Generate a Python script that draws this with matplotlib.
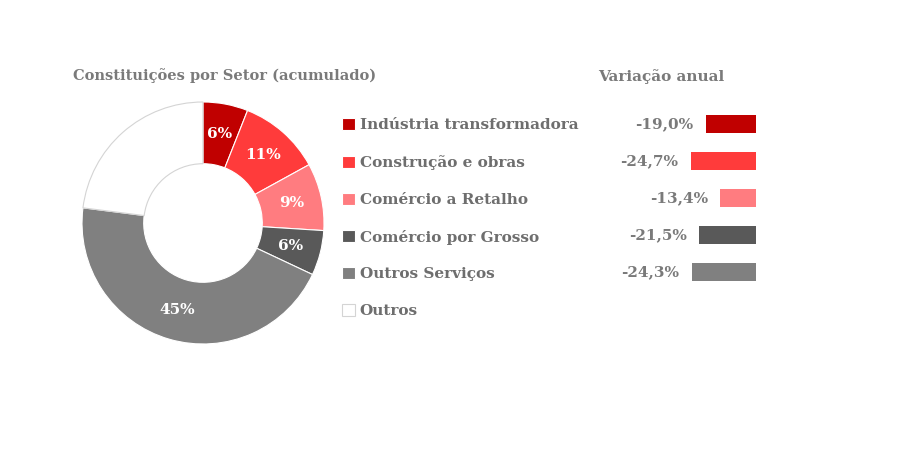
import matplotlib.pyplot as plt
import numpy as np

# dados
setores = ["Indústria transformadora", "Construção e obras", "Comércio a Retalho",
           "Comércio por Grosso", "Outros Serviços", "Outros"]
quotas = [6, 11, 9, 6, 45, 23]
quota_labels = ["6%", "11%", "9%", "6%", "45%", ""]
variacao = [-19.0, -24.7, -13.4, -21.5, -24.3]
variacao_labels = ["-19,0%", "-24,7%", "-13,4%", "-21,5%", "-24,3%"]

cores = ["#C00000", "#FF3B3B", "#FF7C80", "#595959", "#808080", "#FFFFFF"]
TEXTO = "#7a7a7a"
FONTE = "DejaVu Serif"

W, H = 900, 450
fig = plt.figure(figsize=(9, 4.5), dpi=100)
fig.patch.set_facecolor("white")


def px_axes(x0, y0, x1, y1):
    # caixa em pixeis (origem no canto superior esquerdo)
    return fig.add_axes([x0 / W, (H - y1) / H, (x1 - x0) / W, (y1 - y0) / H])


# donut
cx, cy, r = 203, 223, 121
ax = px_axes(cx - r, cy - r, cx + r, cy + r)
wedges, _ = ax.pie(quotas, colors=cores, startangle=90, counterclock=False,
                   radius=1, wedgeprops=dict(width=0.51, edgecolor="white", linewidth=0.8))
wedges[-1].set_edgecolor("#d4d4d4")
ax.set_xlim(-1, 1)
ax.set_ylim(-1, 1)
ax.set_aspect("equal")
ax.axis("off")

for w, lab in zip(wedges, quota_labels):
    ang = np.deg2rad((w.theta1 + w.theta2) / 2)
    ax.text(0.75 * np.cos(ang), 0.75 * np.sin(ang), lab, ha="center", va="center",
            color="white", fontsize=11, fontweight="bold", family=FONTE)

fig.text(73 / W, 1 - 76 / H, "Constituições por Setor (acumulado)", ha="left", va="center",
         color=TEXTO, fontsize=10.5, fontweight="bold", family=FONTE)

# legenda
leg = fig.legend(wedges, setores, loc="upper left", bbox_to_anchor=(342 / W, 1 - 118 / H),
                 frameon=False, borderpad=0, borderaxespad=0, handlelength=0.85,
                 handleheight=0.85, handletextpad=0.3, labelspacing=1.48,
                 prop=dict(family=FONTE, weight="bold", size=11))
for t in leg.get_texts():
    t.set_color("#6e6e6e")

# variacao anual
bx = px_axes(580, 105.5, 756, 290.5)
y = np.arange(len(variacao))
bx.barh(y, [-v for v in variacao], left=variacao, height=0.49, color=cores[:5])
bx.set_xlim(-176 / 2.65, 0)
bx.set_ylim(len(variacao) - 0.5, -0.5)
bx.axis("off")
for yi, v, lab in zip(y, variacao, variacao_labels):
    bx.annotate(lab, (v, yi), xytext=(-9, 0), textcoords="offset points", ha="right",
                va="center", color=TEXTO, fontsize=11, fontweight="bold", family=FONTE)

fig.text(598 / W, 1 - 77 / H, "Variação anual", ha="left", va="center",
         color=TEXTO, fontsize=11, fontweight="bold", family=FONTE)

fig.savefig("out.png", dpi=100, facecolor="white")
